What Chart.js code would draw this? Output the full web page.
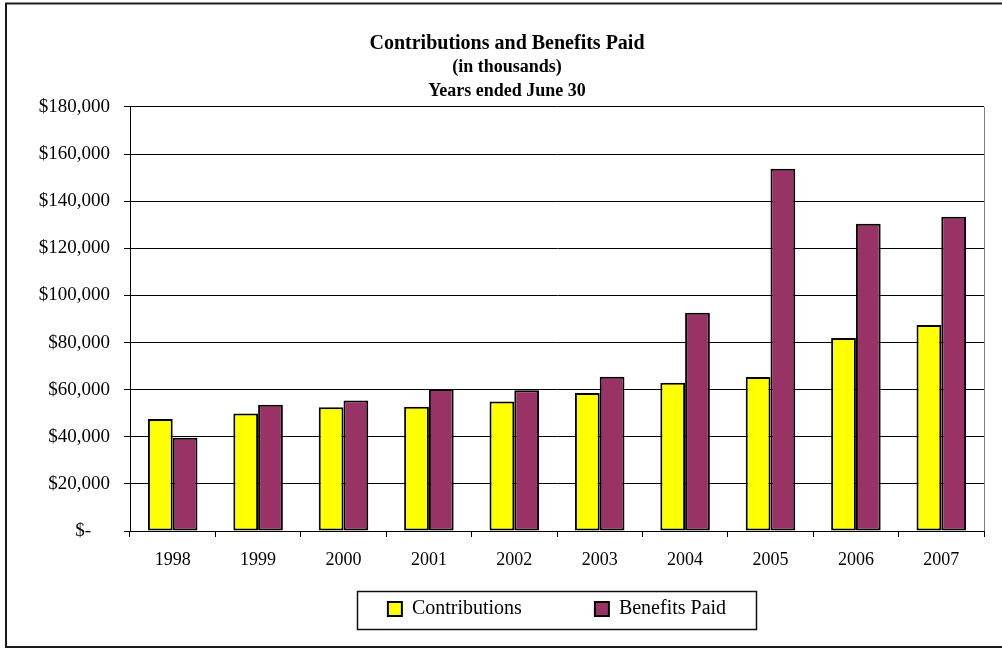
<!DOCTYPE html>
<html>
<head>
<meta charset="utf-8">
<title>Contributions and Benefits Paid</title>
<script src="https://cdn.jsdelivr.net/npm/chart.js@4"></script>
<style>
    html, body { margin: 0; padding: 0; background: #fff; }
    canvas { display: block; }
</style>
</head>
<body>
<canvas id="chart" width="1002" height="648"></canvas>
<script>
const years = ['1998', '1999', '2000', '2001', '2002', '2003', '2004', '2005', '2006', '2007'];
const contributions = [47500, 49900, 52500, 52800, 55000, 58600, 62900, 65400, 81900, 87400];
const benefitsPaid = [39600, 53600, 55400, 60300, 59800, 65500, 92700, 153800, 130400, 133400];
const yTicks = [0, 20000, 40000, 60000, 80000, 100000, 120000, 140000, 160000, 180000];

const serif = '"Liberation Serif", "Times New Roman", serif';

document.addEventListener('DOMContentLoaded', () => {
    // outer frame, grey right edge of the plot, box around the legend
    const framePlugin = {
        id: 'frame',
        beforeDatasetsDraw(chart) {
            const { ctx, chartArea } = chart;
            ctx.save();
            ctx.strokeStyle = '#808080';
            ctx.lineWidth = 1;
            ctx.beginPath();
            ctx.moveTo(chartArea.right + 0.5, chartArea.top);
            ctx.lineTo(chartArea.right + 0.5, chartArea.bottom);
            ctx.stroke();
            ctx.restore();
        },
        afterDraw(chart) {
            const ctx = chart.ctx;
            ctx.save();
            ctx.strokeStyle = '#1a1a1a';
            ctx.lineWidth = 2;
            ctx.beginPath();
            ctx.moveTo(1002, 3.5);
            ctx.lineTo(6, 3.5);
            ctx.lineTo(6, 647);
            ctx.lineTo(1002, 647);
            ctx.stroke();

            const hb = chart.legend.legendHitBoxes;
            if (hb && hb.length) {
                const first = hb[0];
                const last = hb[hb.length - 1];
                const left = Math.round(first.left - 31);
                const right = Math.round(last.left + last.width + 30);
                const mid = first.top + first.height / 2;
                ctx.lineWidth = 1.5;
                ctx.strokeStyle = '#111';
                ctx.strokeRect(left + 0.5, Math.round(mid - 18) + 0.5, right - left, 38);
            }
            ctx.restore();
        }
    };

    const ctx = document.getElementById('chart').getContext('2d');
    new Chart(ctx, {
        type: 'bar',
        data: {
            labels: years,
            datasets: [
                {
                    label: 'Contributions',
                    data: contributions,
                    backgroundColor: '#FFFF00',
                    borderColor: '#000',
                    borderWidth: 2,
                    borderSkipped: false
                },
                {
                    label: 'Benefits Paid',
                    data: benefitsPaid,
                    backgroundColor: '#993366',
                    borderColor: '#000',
                    borderWidth: 2,
                    borderSkipped: false
                }
            ]
        },
        options: {
            responsive: false,
            animation: false,
            layout: { padding: { left: 30, right: 18, top: 0, bottom: 19 } },
            datasets: {
                bar: { categoryPercentage: 0.58, barPercentage: 1.0 }
            },
            plugins: {
                legend: {
                    position: 'bottom',
                    fullSize: false,
                    labels: {
                        color: '#000',
                        font: { family: serif, size: 20 },
                        boxWidth: 14,
                        boxHeight: 14,
                        padding: 8,
                        // wider gap after the first entry
                        generateLabels(chart) {
                            const items = Chart.defaults.plugins.legend.labels.generateLabels(chart);
                            items.forEach((it, i) => {
                                it.lineWidth = 2;
                                if (i < items.length - 1) it.text = it.text + ' '.repeat(13);
                            });
                            return items;
                        }
                    }
                },
                tooltip: { enabled: false },
                title: {
                    display: true,
                    text: 'Contributions and Benefits Paid',
                    color: '#000',
                    font: { family: serif, size: 20, weight: 'bold', lineHeight: 1.1 },
                    padding: { top: 33, bottom: 0 }
                },
                subtitle: {
                    display: true,
                    text: ['(in thousands)', 'Years ended June 30'],
                    color: '#000',
                    font: { family: serif, size: 18, weight: 'bold', lineHeight: 1.3333 },
                    padding: { top: 0, bottom: 4 }
                }
            },
            scales: {
                x: {
                    grid: {
                        display: true,
                        offset: true,
                        drawOnChartArea: false,
                        drawTicks: true,
                        tickLength: 6,
                        color: '#000'
                    },
                    border: { display: true, color: '#000', width: 1 },
                    ticks: {
                        color: '#000',
                        padding: 12,
                        font: { family: serif, size: 18 }
                    },
                    afterFit(scale) { scale.height = 60; }
                },
                y: {
                    min: 0,
                    max: 180000,
                    afterBuildTicks(scale) {
                        scale.ticks = yTicks.map(v => ({ value: v }));
                    },
                    grid: {
                        color: '#000',
                        lineWidth: 1,
                        drawTicks: true,
                        tickLength: 6
                    },
                    border: { display: true, color: '#000', width: 1 },
                    ticks: {
                        color: '#000',
                        padding: 14,
                        font: { family: serif, size: 19 },
                        callback: v => v === 0 ? '$-    ' : '$' + v.toLocaleString('en-US')
                    },
                    afterFit(scale) { scale.width = 100; }
                }
            }
        },
        plugins: [framePlugin]
    });
});
</script>
</body>
</html>
